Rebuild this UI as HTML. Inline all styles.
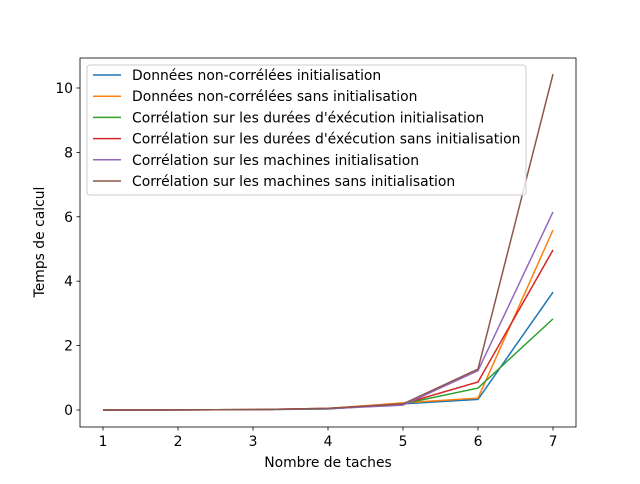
<!DOCTYPE html>
<html><head><meta charset="utf-8"><style>
body{margin:0;background:#fff;font-family:"DejaVu Sans","Liberation Sans",sans-serif}
</style></head><body>
<svg id="chart" width="640" height="480" xmlns="http://www.w3.org/2000/svg" font-family="DejaVu Sans, Liberation Sans, sans-serif"></svg>
<script>
const categories=[1,2,3,4,5,6,7];
const seriesNames=["Données non-corrélées initialisation","Données non-corrélées sans initialisation","Corrélation sur les durées d'éxécution initialisation","Corrélation sur les durées d'éxécution sans initialisation","Corrélation sur les machines initialisation","Corrélation sur les machines sans initialisation"];
const s0=[0,0.003,0.01,0.03,0.19,0.33,3.66];
const s1=[0,0.003,0.01,0.05,0.22,0.37,5.59];
const s2=[0,0.003,0.01,0.04,0.19,0.68,2.83];
const s3=[0,0.003,0.01,0.05,0.19,0.87,4.97];
const s4=[0,0.003,0.01,0.04,0.15,1.22,6.15];
const s5=[0,0.003,0.01,0.05,0.19,1.27,10.43];
const series=[s0,s1,s2,s3,s4,s5];
const colors=["#1f77b4","#ff7f0e","#2ca02c","#d62728","#9467bd","#8c564b"];
const xTicks=[1,2,3,4,5,6,7];
const yTicks=[0,2,4,6,8,10];
const NS="http://www.w3.org/2000/svg";
const svg=document.getElementById('chart');
const L=80,R=576,T=58,B=427;
const FS=13.9;
const xs=v=>103+(v-1)*75;
const ys=v=>410-v*32.2;
function mk(tag,attrs,parent){const e=document.createElementNS(NS,tag);for(const k in attrs)e.setAttribute(k,attrs[k]);(parent||svg).appendChild(e);return e;}
series.forEach((s,i)=>{
 const p=mk('polyline',{points:s.map((v,j)=>xs(categories[j])+','+ys(v)).join(' '),fill:'none',stroke:colors[i],'stroke-width':1.5});
 
 
});
const frame=mk('rect',{x:L,y:T,width:R-L,height:B-T,fill:'none',stroke:'#000','stroke-width':0.8});


xTicks.forEach(t=>{
 mk('line',{x1:xs(t),x2:xs(t),y1:B,y2:B+3.5,stroke:'#000','stroke-width':0.8});
 const tx=mk('text',{x:xs(t),y:B+19,'text-anchor':'middle','font-size':FS});tx.textContent=t;
 
 
});
yTicks.forEach(t=>{
 mk('line',{x1:L,x2:L-3.5,y1:ys(t),y2:ys(t),stroke:'#000','stroke-width':0.8});
 const tx=mk('text',{x:L-7,y:ys(t)+5,'text-anchor':'end','font-size':FS});tx.textContent=t;
 
 
});
const xt=mk('text',{x:328,y:467,'text-anchor':'middle','font-size':FS});xt.textContent='Nombre de taches';


const yt=mk('text',{x:44,y:242,'text-anchor':'middle','font-size':FS,transform:'rotate(-90 44 242)'});yt.textContent='Temps de calcul';


const lg=mk('g',{});


mk('rect',{x:87,y:65,width:439,height:130,rx:3,fill:'#fff','fill-opacity':0.8,stroke:'#ccc'},lg);
seriesNames.forEach((n,i)=>{
 const y=75+i*21.2;
 const ln=mk('line',{x1:93,x2:121,y1:y,y2:y,stroke:colors[i],'stroke-width':1.5},lg);
 
 
 const tx=mk('text',{x:132,y:y+5,'font-size':FS},lg);tx.textContent=n;
 
 
});
</script>
</body></html>
